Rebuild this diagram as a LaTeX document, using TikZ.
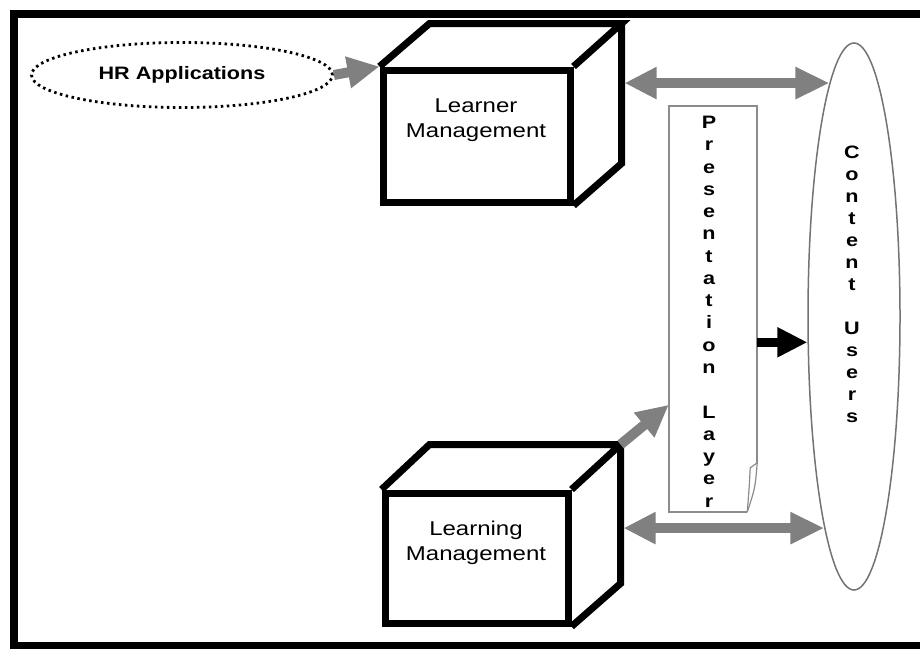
\documentclass[tikz,border=0pt]{standalone}
\usepackage{fontspec}
\setmainfont[FakeStretch=1.2]{Liberation Sans}
\usetikzlibrary{shapes.geometric,arrows.meta,calc}
\definecolor{arrowgray}{gray}{0.5}
\definecolor{linegray}{gray}{0.45}
\definecolor{pagegray}{gray}{0.55}
\begin{document}
\begin{tikzpicture}[x=1pt,y=-1pt,
  front/.style={draw=black, line width=7pt, rectangle, inner sep=0pt, minimum width=187pt, minimum height=132pt},
  cubeline/.style={draw=black, line width=7pt, line join=miter},
  boxtext/.style={font=\fontsize{20}{24.5}\selectfont, align=center, inner sep=0pt},
  grayarrow/.style={draw=arrowgray, line width=10pt, -{Triangle[length=32pt,width=30pt]}},
  graydouble/.style={draw=arrowgray, line width=10pt, {Triangle[length=32pt,width=30pt]}-{Triangle[length=34pt,width=30pt]}},
  blackarrow/.style={draw=black, line width=9pt, -{Triangle[length=30pt,width=28pt]}},
  letter/.style={font=\fontsize{18}{18}\selectfont\bfseries, anchor=base, inner sep=0pt},
  hrell/.style={ellipse, draw=black, line width=2.8pt, dash pattern=on 2.5pt off 3.5pt, inner sep=0pt, minimum width=301pt, minimum height=65pt, font=\fontsize{18}{20}\selectfont\bfseries},
  userell/.style={ellipse, draw=linegray, line width=1.5pt, inner sep=0pt, minimum width=92pt, minimum height=547pt},
  pagebox/.style={rectangle, inner sep=0pt, minimum width=88pt, minimum height=406pt},
  pageline/.style={draw=pagegray, line width=1.5pt, line join=miter}
]
\useasboundingbox (0,0) rectangle (920,648);
\fill[white] (0,0) rectangle (920,648);
% outer frame
\draw[line width=8pt] (13.5,14) rectangle (960,646);

% HR applications
\node[hrell] (hr) at (182,75) {HR Applications};

% Learner management cube
\node[front] (lm1) at (476.5,136) {};
\coordinate (l1tl) at ($(lm1.north west)+(50,-43)$);
\coordinate (l1tr) at ($(lm1.north east)+(48,-43)$);
\coordinate (l1br) at ($(lm1.south east)+(48,-42)$);
\draw[cubeline] (lm1.north west) -- (l1tl) -- (l1tr) -- (lm1.north east);
\draw[cubeline] (l1tr) -- (l1br) -- (lm1.south east);
\node[boxtext] (lm1t) at (476,120) {Learner\\Management};

% Learning management cube
\node[front, minimum width=183pt, minimum height=130pt] (lm2) at (476.5,558) {};
\coordinate (l2tl) at ($(lm2.north west)+(48,-45)$);
\coordinate (l2tr) at ($(lm2.north east)+(49,-45)$);
\coordinate (l2br) at ($(lm2.south east)+(49,-43)$);
\draw[cubeline] (lm2.north west) -- (l2tl) -- (l2tr) -- (lm2.north east);
\draw[cubeline] (l2tr) -- (l2br) -- (lm2.south east);
\node[boxtext] (lm2t) at (476,543) {Learning\\Management};

% Presentation layer page
\node[pagebox] (pres) at (713,309) {};
\coordinate (pfold) at ($(pres.north east)+(0,357)$);
\coordinate (pfoot) at ($(pres.south east)+(-10,0)$);
\draw[pageline] (pfoot) -- (pres.south west) -- (pres.north west) -- (pres.north east) -- (pfold);
\draw[pageline, line width=1.2pt] (pfold) .. controls ($(pfold)+(-2,25)$) .. (pfoot);
\draw[pageline, line width=1.2pt] (pfold) -- ($(pfold)+(-7,5)$) .. controls ($(pfold)+(-8,25)$) .. (pfoot);
\foreach \c [count=\k from 0] in {P,r,e,s,e,n,t,a,t,i,o,n,{},L,a,y,e,r}
  \node[letter] (pl\k) at (709,128.5+22.27*\k) {\c};

% Content users
\node[userell] (users) at (854,316.5) {};
\foreach \c [count=\k from 0] in {C,o,n,t,e,n,t,{},U,s,e,r,s}
  \node[letter] (cu\k) at (852,158.5+22*\k) {\c};

% connectors
\draw[grayarrow] (hr.east) -- (lm1.north west);
\draw[graydouble, shorten <=3pt] (l1tr |- users.96.5) -- (users.96.5);
\draw[graydouble, shorten <=3pt] (l2tr |- users.262.2) -- (users.262.2);
\draw[blackarrow] (pres.east |- users.209.1) -- (users.209.1);
\draw[grayarrow] (l2tr) -- ($(pres.north west)+(0,299)$);
\end{tikzpicture}
\end{document}
